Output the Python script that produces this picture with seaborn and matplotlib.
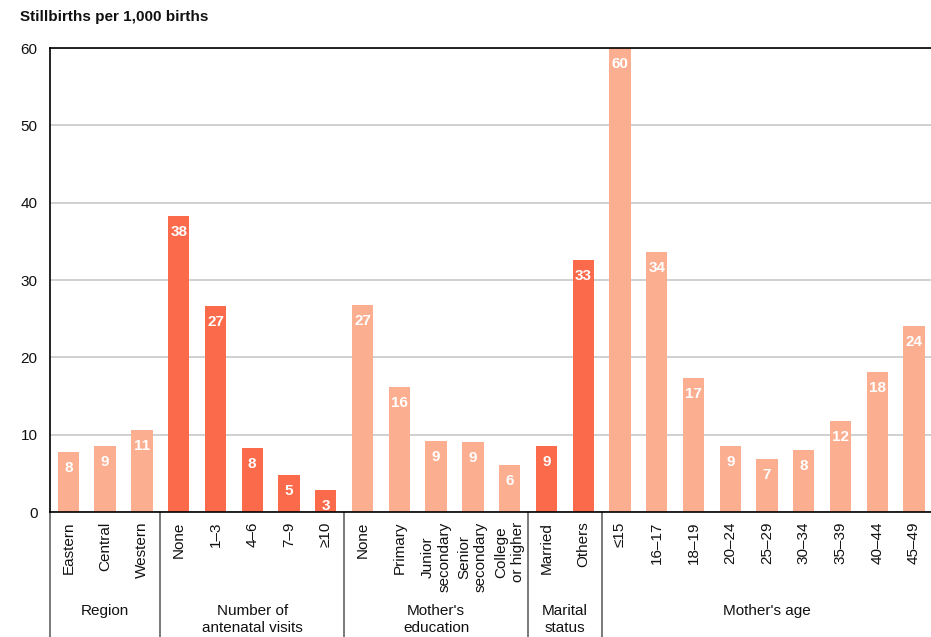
import matplotlib
matplotlib.use("Agg")
import matplotlib.pyplot as plt
import matplotlib.transforms as mtransforms
import seaborn as sns
import pandas as pd

# Stillbirth rates by characteristic
region_labels = ["Eastern", "Central", "Western"]
region_values = [7.7, 8.5, 10.6]

visits_labels = ["None", "1\u20133", "4\u20136", "7\u20139", "\u226510"]
visits_values = [38.3, 26.6, 8.3, 4.8, 2.8]

education_labels = ["None", "Primary", "Junior\nsecondary", "Senior\nsecondary", "College\nor higher"]
education_values = [26.8, 16.2, 9.2, 9.1, 6.1]

marital_labels = ["Married", "Others"]
marital_values = [8.5, 32.6]

age_labels = ["\u226415", "16\u201317", "18\u201319", "20\u201324", "25\u201329",
              "30\u201334", "35\u201339", "40\u201344", "45\u201349"]
age_values = [60.0, 33.6, 17.3, 8.5, 6.9, 8.0, 11.8, 18.1, 24.1]

group_titles = ["Region", "Number of\nantenatal visits", "Mother's\neducation",
                "Marital\nstatus", "Mother's age"]
group_highlight = [False, True, False, True, False]

groups = [
    (region_labels, region_values),
    (visits_labels, visits_values),
    (education_labels, education_values),
    (marital_labels, marital_values),
    (age_labels, age_values),
]

rows = []
for g, (labels, values) in enumerate(groups):
    for lab, val in zip(labels, values):
        rows.append({"key": f"{g}:{lab}", "label": lab, "value": val,
                     "highlight": "dark" if group_highlight[g] else "light"})
df = pd.DataFrame(rows)


def round_half_up(v):
    return int(v + 0.5)


sns.set_theme(style="white")
plt.rcParams["font.family"] = ["Liberation Sans", "DejaVu Sans"]

FS = 11
fig = plt.figure(figsize=(9.31, 6.37), dpi=100)
ax = fig.add_axes([50 / 931, 1 - 512 / 637, 882.5 / 931, 464 / 637])

palette = {"light": "#FCAE91", "dark": "#FB6A4A"}
sns.barplot(data=df, x="key", y="value", hue="highlight", palette=palette,
            dodge=False, width=0.58, legend=False, ax=ax, saturation=1,
            edgecolor="none", linewidth=0)

ax.set_xlim(-0.5, len(df) - 0.5)
ax.set_ylim(0, 60)
ax.set_yticks(range(0, 61, 10))
ax.yaxis.grid(True, color="#C8C8C8", linewidth=1.2)
ax.set_axisbelow(True)
ax.set_xlabel("")
ax.set_ylabel("")

ax.set_xticks(range(len(df)))
ax.set_xticklabels(df["label"], rotation=90, ha="center", va="top",
                   multialignment="center", fontsize=FS, color="#111111",
                   linespacing=1.2)
ax.tick_params(axis="x", length=0, pad=7)
ax.tick_params(axis="y", length=0, pad=9, labelsize=FS, labelcolor="#111111")

for side in ["top", "left", "bottom"]:
    ax.spines[side].set_visible(True)
    ax.spines[side].set_color("black")
    ax.spines[side].set_linewidth(1.2)
ax.spines["right"].set_visible(False)

# Value labels inside the top of each bar
for i, v in enumerate(df["value"]):
    ax.annotate(f"{round_half_up(v)}", xy=(i, v), xytext=(0, -11.5),
                textcoords="offset points", ha="center", va="center",
                color="white", fontsize=FS, fontweight="bold")

# Group separators and group titles below the axis
trans = mtransforms.blended_transform_factory(ax.transData, fig.transFigure)
bounds = [-0.5]
pos = -0.5
for labels, _ in groups:
    pos += len(labels)
    bounds.append(pos)

for b in bounds[:-1]:
    ax.plot([b, b], [1 - 512 / 637, 0], transform=trans, color="#555555",
            linewidth=1.1, clip_on=False)

for g, title in enumerate(group_titles):
    cx = (bounds[g] + bounds[g + 1]) / 2
    ax.text(cx, 1 - 604 / 637, title, transform=trans, ha="center", va="top",
            fontsize=FS, color="#111111", linespacing=1.25)

fig.text(20 / 931, 1 - 17 / 637, "Stillbirths per 1,000 births", fontsize=FS,
         fontweight="bold", ha="left", va="center", color="#111111")

fig.savefig("out.png", dpi=100)
